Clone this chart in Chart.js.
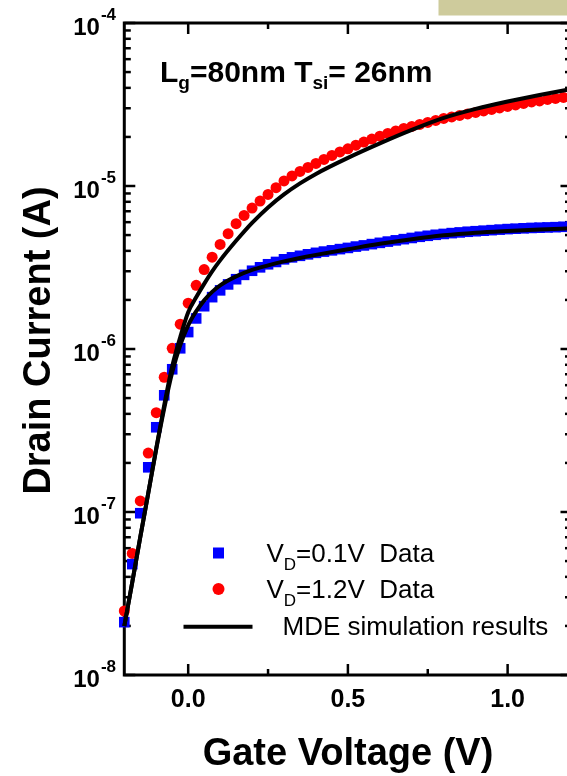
<!DOCTYPE html>
<html><head><meta charset="utf-8">
<script src="https://cdn.jsdelivr.net/npm/chart.js@4"></script>
<style>html,body{margin:0;padding:0;overflow:hidden;background:#fff;width:567px;height:776px}canvas{display:block}</style>
</head><body>
<canvas id="c" width="600" height="776"></canvas>
<script>
// ---- data ----
const gateVoltage = [-0.2,-0.175,-0.15,-0.125,-0.1,-0.075,-0.05,-0.025,0,0.025,0.05,0.075,0.1,0.125,0.15,0.175,0.2,0.225,0.25,0.275,0.3,0.325,0.35,0.375,0.4,0.425,0.45,0.475,0.5,0.525,0.55,0.575,0.6,0.625,0.65,0.675,0.7,0.725,0.75,0.775,0.8,0.825,0.85,0.875,0.9,0.925,0.95,0.975,1.0,1.025,1.05,1.075,1.1,1.125,1.15,1.175,1.2];
const drainLowVd = [2.11e-8,4.79e-8,9.83e-8,1.88e-7,3.31e-7,5.20e-7,7.51e-7,1.01e-6,1.27e-6,1.54e-6,1.83e-6,2.08e-6,2.29e-6,2.49e-6,2.68e-6,2.85e-6,3.02e-6,3.17e-6,3.31e-6,3.42e-6,3.55e-6,3.65e-6,3.73e-6,3.81e-6,3.89e-6,3.96e-6,4.03e-6,4.10e-6,4.17e-6,4.25e-6,4.32e-6,4.40e-6,4.48e-6,4.56e-6,4.64e-6,4.72e-6,4.80e-6,4.88e-6,4.95e-6,5.02e-6,5.08e-6,5.14e-6,5.19e-6,5.24e-6,5.28e-6,5.32e-6,5.36e-6,5.40e-6,5.44e-6,5.47e-6,5.50e-6,5.53e-6,5.55e-6,5.57e-6,5.59e-6,5.62e-6,5.64e-6];
const drainHighVd = [2.47e-8,5.57e-8,1.17e-7,2.30e-7,4.07e-7,6.71e-7,1.01e-6,1.42e-6,1.91e-6,2.46e-6,3.07e-6,3.66e-6,4.38e-6,5.10e-6,5.87e-6,6.60e-6,7.32e-6,8.08e-6,8.88e-6,9.76e-6,1.075e-5,1.153e-5,1.229e-5,1.300e-5,1.376e-5,1.456e-5,1.540e-5,1.618e-5,1.69e-5,1.78e-5,1.86e-5,1.94e-5,2.02e-5,2.10e-5,2.177e-5,2.255e-5,2.32e-5,2.386e-5,2.454e-5,2.524e-5,2.597e-5,2.652e-5,2.710e-5,2.768e-5,2.827e-5,2.888e-5,2.950e-5,3.013e-5,3.076e-5,3.142e-5,3.209e-5,3.278e-5,3.325e-5,3.396e-5,3.444e-5,3.493e-5,3.543e-5];
const simGateVoltage = [-0.2,-0.175,-0.15,-0.125,-0.1,-0.075,-0.05,-0.025,0,0.025,0.05,0.075,0.1,0.15,0.2,0.25,0.3,0.35,0.4,0.5,0.6,0.7,0.8,0.9,1.0,1.1,1.2];
const simLowVd = [1.995e-8,3.71e-8,7.01e-8,1.304e-7,2.427e-7,4.33e-7,7.20e-7,1.053e-6,1.398e-6,1.702e-6,1.988e-6,2.24e-6,2.458e-6,2.79e-6,3.06e-6,3.26e-6,3.45e-6,3.62e-6,3.78e-6,4.09e-6,4.42e-6,4.72e-6,4.98e-6,5.17e-6,5.30e-6,5.41e-6,5.50e-6];
const simHighVd = [1.995e-8,3.71e-8,7.01e-8,1.304e-7,2.46e-7,4.52e-7,7.83e-7,1.179e-6,1.679e-6,2.075e-6,2.51e-6,2.995e-6,3.498e-6,4.61e-6,5.94e-6,7.39e-6,8.88e-6,1.037e-5,1.186e-5,1.487e-5,1.825e-5,2.208e-5,2.615e-5,2.971e-5,3.302e-5,3.619e-5,3.937e-5];
const xMajorTicks = [0, 0.5, 1.0];
const xMajorLabels = ['0.0', '0.5', '1.0'];
const xMinorTicks = [0.25, 0.75];
const yDecadeExponents = [-8, -7, -6, -5, -4];
const legendLabels = [['V', 'D', '=0.1V  Data'], ['V', 'D', '=1.2V  Data'], ['MDE simulation results']];
const annotationParts = [['L', 'g', '=80nm '], ['T', 'si', '= 26nm']];
const xTitle = 'Gate Voltage (V)';
const yTitle = 'Drain Current (A)';

const FONT = '"Liberation Sans", Arial, Helvetica, sans-serif';
const BLUE = '#0000ff', RED = '#ff0000';

function pts(xs, ys) { return xs.map((v, i) => ({x: v, y: ys[i]})); }

const decor = {
  id: 'decor',
  beforeDatasetsDraw(chart) {
    const {ctx, chartArea: a, scales: {x, y}} = chart;
    ctx.save();
    ctx.fillStyle = '#cecb9c';
    ctx.fillRect(438.5, 0, 140, 15.5);
    ctx.strokeStyle = '#000';
    ctx.lineCap = 'butt';
    const seg = (x1, y1, x2, y2) => { ctx.beginPath(); ctx.moveTo(x1, y1); ctx.lineTo(x2, y2); ctx.stroke(); };
    ctx.lineWidth = 2.5;
    for (const v of xMajorTicks) { const p = x.getPixelForValue(v); seg(p, a.bottom, p, a.bottom - 11); seg(p, a.top, p, a.top + 11); }
    for (const v of xMinorTicks) { const p = x.getPixelForValue(v); seg(p, a.bottom, p, a.bottom - 6); seg(p, a.top, p, a.top + 6); }
    for (let k = 0; k < yDecadeExponents.length; k++) {
      const e = yDecadeExponents[k];
      const p = y.getPixelForValue(Math.pow(10, e));
      seg(a.left, p, a.left + 11, p); seg(a.right, p, a.right - 11, p);
      if (k < yDecadeExponents.length - 1) {
        for (let m = 2; m <= 9; m++) {
          const q = y.getPixelForValue(m * Math.pow(10, e));
          seg(a.left, q, a.left + 6.5, q); seg(a.right, q, a.right - 6.5, q);
        }
      }
    }
    ctx.lineWidth = 3;
    ctx.strokeRect(a.left, a.top, a.right - a.left, a.bottom - a.top);
    ctx.restore();
  },
  afterDatasetsDraw(chart) {
    const {ctx, chartArea: a, scales: {x, y}} = chart;
    ctx.save();
    ctx.fillStyle = '#000';
    ctx.textBaseline = 'alphabetic';
    // x tick labels
    ctx.font = 'bold 25px ' + FONT;
    ctx.textAlign = 'center';
    xMajorTicks.forEach((v, i) => ctx.fillText(xMajorLabels[i], x.getPixelForValue(v), 707));
    // y tick labels 10^e
    ctx.textAlign = 'left';
    for (const e of yDecadeExponents) {
      const p = y.getPixelForValue(Math.pow(10, e));
      ctx.font = 'bold 24px ' + FONT;
      const w10 = ctx.measureText('10').width;
      ctx.font = 'bold 17px ' + FONT;
      const sup = String(e);
      const ws = ctx.measureText(sup).width;
      const x0 = 116 - ws - w10 - 1;
      ctx.font = 'bold 24px ' + FONT;
      ctx.fillText('10', x0, p + 12);
      ctx.font = 'bold 17px ' + FONT;
      ctx.fillText(sup, x0 + w10 + 1, p - 3);
    }
    // axis titles
    ctx.font = 'bold 38px ' + FONT;
    ctx.textAlign = 'center';
    ctx.fillText(xTitle, 348, 765);
    ctx.save();
    ctx.translate(50, 340.5);
    ctx.rotate(-Math.PI / 2);
    ctx.fillText(yTitle, 0, 0);
    ctx.restore();
    // annotation
    ctx.textAlign = 'left';
    let ax = 160;
    for (const [main, sub, rest] of annotationParts) {
      ctx.font = 'bold 30px ' + FONT;
      ctx.fillText(main, ax, 82); ax += ctx.measureText(main).width;
      ctx.font = 'bold 19px ' + FONT;
      ctx.fillText(sub, ax, 89); ax += ctx.measureText(sub).width;
      ctx.font = 'bold 30px ' + FONT;
      ctx.fillText(rest, ax, 82); ax += ctx.measureText(rest).width;
    }
    // legend
    ctx.fillStyle = BLUE;
    ctx.fillRect(213, 547.5, 11, 11);
    ctx.fillStyle = RED;
    ctx.beginPath(); ctx.arc(218.5, 589, 6, 0, Math.PI * 2); ctx.fill();
    ctx.strokeStyle = '#000'; ctx.lineWidth = 4;
    ctx.beginPath(); ctx.moveTo(183.5, 626.7); ctx.lineTo(252.5, 626.7); ctx.stroke();
    ctx.fillStyle = '#000';
    const rows = [561.7, 598.3];
    legendLabels.slice(0, 2).forEach((parts, i) => {
      let lx = 266.5;
      ctx.font = '26px ' + FONT;
      ctx.fillText(parts[0], lx, rows[i]); lx += ctx.measureText(parts[0]).width;
      ctx.font = '17px ' + FONT;
      ctx.fillText(parts[1], lx, rows[i] + 8); lx += ctx.measureText(parts[1]).width;
      ctx.font = '26px ' + FONT;
      ctx.fillText(parts[2], lx, rows[i]);
    });
    ctx.font = '26px ' + FONT;
    ctx.fillText(legendLabels[2][0], 282.5, 635);
    ctx.restore();
  }
};

new Chart(document.getElementById('c').getContext('2d'), {
  type: 'line',
  data: {
    datasets: [
      {data: pts(simGateVoltage, simLowVd), borderColor: '#000', borderWidth: 4, pointRadius: 0, cubicInterpolationMode: 'monotone', fill: false, clip: false},
      {data: pts(simGateVoltage, simHighVd), borderColor: '#000', borderWidth: 4, pointRadius: 0, cubicInterpolationMode: 'monotone', fill: false, clip: false},
      {data: pts(gateVoltage, drainLowVd), showLine: false, pointStyle: 'rect', pointRadius: 7.5, pointBorderWidth: 0, pointBackgroundColor: BLUE, pointBorderColor: BLUE, clip: false},
      {data: pts(gateVoltage, drainHighVd), showLine: false, pointStyle: 'circle', pointRadius: 5.5, pointBorderWidth: 0, pointBackgroundColor: RED, pointBorderColor: RED, clip: false}
    ]
  },
  options: {
    responsive: false, animation: false, devicePixelRatio: 1, events: [],
    layout: {padding: {left: 124.3, top: 23, right: 600 - 571.5, bottom: 776 - 675}},
    plugins: {legend: {display: false}, tooltip: {enabled: false}},
    scales: {
      x: {type: 'linear', min: -0.2, max: 1.2, display: false},
      y: {type: 'logarithmic', min: 1e-8, max: 1e-4, display: false}
    }
  },
  plugins: [decor]
});
</script>
</body></html>
